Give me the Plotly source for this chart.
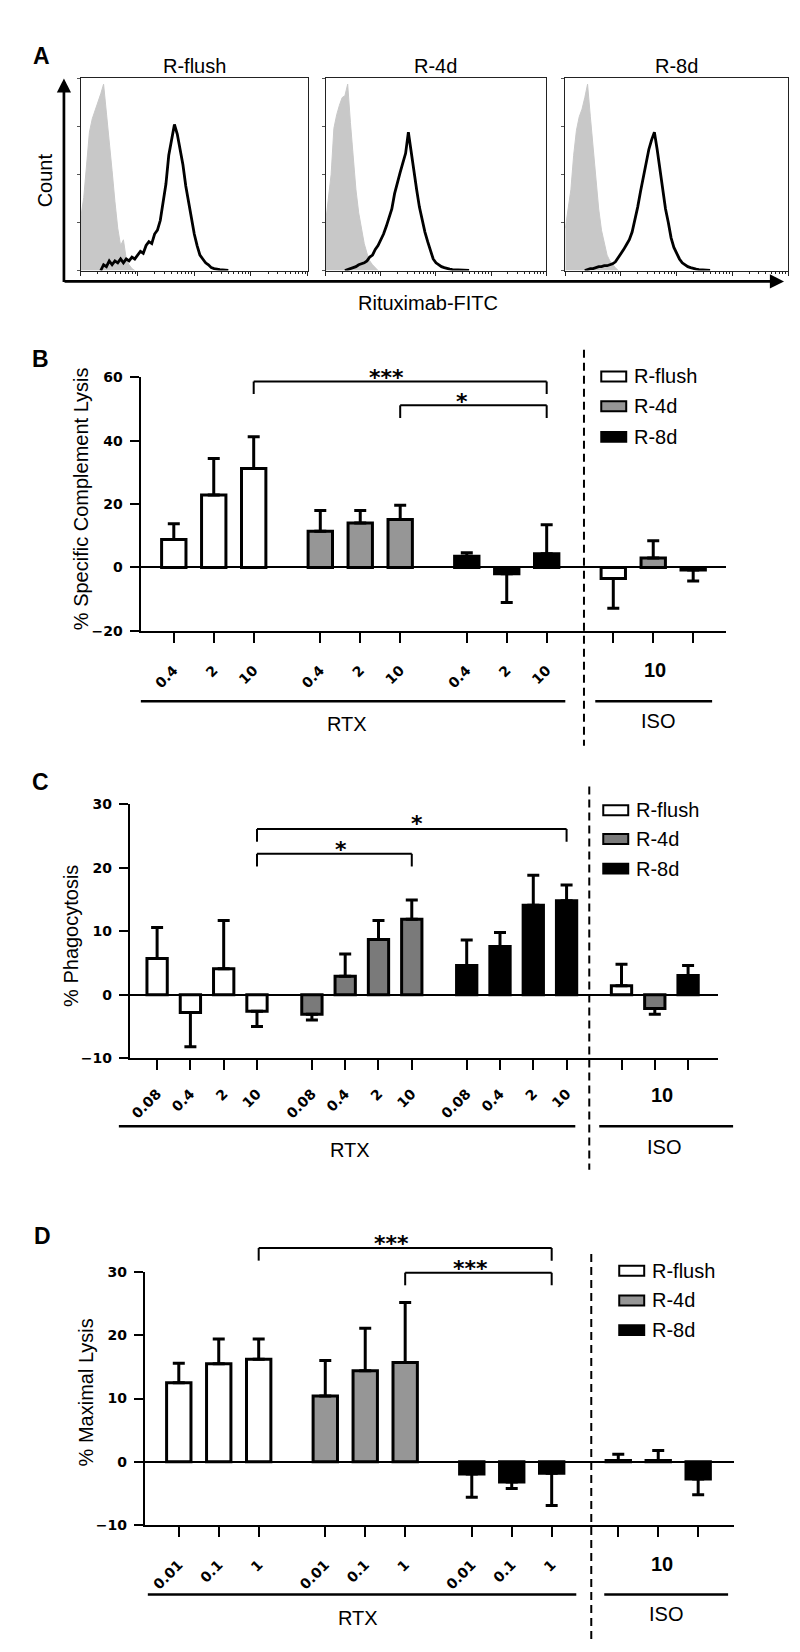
import math
import plotly.graph_objects as go

W, H = 800, 1652

# ---------------- Panel A: flow cytometry histograms ----------------
HIST_TITLES = ["R-flush", "R-4d", "R-8d"]
# isotype (grey filled) histograms: log10 fluorescence (decades) vs. relative count
ISO_DEC = [0.00, 0.05, 0.10, 0.15, 0.20, 0.25, 0.30, 0.35, 0.40, 0.45,
           0.50, 0.55, 0.60, 0.65, 0.70, 0.75, 0.80, 0.85, 0.90, 0.95]
ISO_FLUSH = [0.28, 0.38, 0.55, 0.72, 0.79, 0.83, 0.88, 0.92, 0.97, 0.82,
             0.70, 0.52, 0.36, 0.22, 0.13, 0.16, 0.06, 0.03, 0.01, 0.0]
ISO_4D = [0.25, 0.36, 0.50, 0.74, 0.81, 0.86, 0.90, 0.91, 0.97, 0.77,
          0.60, 0.42, 0.30, 0.21, 0.14, 0.09, 0.05, 0.03, 0.015, 0.0]
ISO_8D = [0.22, 0.31, 0.42, 0.60, 0.73, 0.80, 0.84, 0.90, 0.97, 0.80,
          0.64, 0.46, 0.32, 0.21, 0.14, 0.08, 0.05, 0.03, 0.015, 0.0]
# rituximab-FITC (black line) histograms
RTX_DEC = [0.35, 0.40, 0.45, 0.50, 0.55, 0.60, 0.65, 0.70, 0.75, 0.80,
           0.85, 0.90, 0.95, 1.00, 1.05, 1.10, 1.15, 1.20, 1.25, 1.30,
           1.35, 1.40, 1.45, 1.50, 1.55, 1.60, 1.65, 1.70, 1.75, 1.80,
           1.85, 1.90, 1.95, 2.00, 2.05, 2.10, 2.15, 2.20, 2.25, 2.30,
           2.35, 2.40, 2.45, 2.50, 2.55, 2.60]
RTX_FLUSH = [0.0, 0.03, 0.02, 0.05, 0.03, 0.05, 0.04, 0.06, 0.04, 0.06,
             0.05, 0.07, 0.06, 0.08, 0.10, 0.09, 0.13, 0.15, 0.14, 0.19,
             0.21, 0.26, 0.36, 0.45, 0.60, 0.68, 0.76, 0.71, 0.63, 0.55,
             0.44, 0.35, 0.27, 0.19, 0.13, 0.08, 0.06, 0.04, 0.03, 0.015,
             0.01, 0.006, 0.004, 0.003, 0.002, 0.0]
RTX_4D = [0.0, 0.005, 0.01, 0.015, 0.02, 0.03, 0.035, 0.04, 0.05, 0.07,
          0.08, 0.11, 0.13, 0.16, 0.19, 0.23, 0.28, 0.32, 0.40, 0.46,
          0.51, 0.56, 0.61, 0.72, 0.62, 0.50, 0.42, 0.33, 0.26, 0.20,
          0.15, 0.10, 0.06, 0.04, 0.03, 0.02, 0.015, 0.01, 0.007, 0.005,
          0.004, 0.003, 0.002, 0.001, 0.001, 0.0]
RTX_8D = [0.0, 0.005, 0.01, 0.01, 0.015, 0.02, 0.02, 0.025, 0.025, 0.03,
          0.035, 0.045, 0.065, 0.085, 0.11, 0.135, 0.16, 0.20, 0.26, 0.33,
          0.41, 0.49, 0.56, 0.63, 0.68, 0.72, 0.63, 0.52, 0.41, 0.32,
          0.25, 0.17, 0.12, 0.09, 0.06, 0.04, 0.03, 0.02, 0.015, 0.01,
          0.007, 0.005, 0.003, 0.002, 0.001, 0.0]

# ---------------- Bar panels ----------------
SERIES = ["R-flush", "R-4d", "R-8d"]
ISO_DOSE = "10"

B_DOSES = ["0.4", "2", "10"]
B_FLUSH = [8.8, 22.9, 31.2]
B_FLUSH_ERR = [5.0, 11.5, 10.1]
B_4D = [11.4, 14.0, 15.1]
B_4D_ERR = [6.6, 4.0, 4.5]
B_8D = [3.5, -2.0, 4.3]
B_8D_ERR = [1.1, 9.1, 9.2]
B_ISO = [-3.5, 3.0, -0.8]
B_ISO_ERR = [9.4, 5.4, 3.5]

C_DOSES = ["0.08", "0.4", "2", "10"]
C_FLUSH = [5.7, -2.8, 4.1, -2.6]
C_FLUSH_ERR = [4.9, 5.4, 7.6, 2.4]
C_4D = [-3.1, 2.9, 8.7, 11.9]
C_4D_ERR = [0.9, 3.5, 3.0, 3.0]
C_8D = [4.6, 7.6, 14.1, 14.8]
C_8D_ERR = [4.0, 2.2, 4.7, 2.5]
C_ISO = [1.4, -2.2, 3.0]
C_ISO_ERR = [3.4, 0.9, 1.6]

D_DOSES = ["0.01", "0.1", "1"]
D_FLUSH = [12.5, 15.5, 16.2]
D_FLUSH_ERR = [3.1, 3.9, 3.2]
D_4D = [10.4, 14.4, 15.7]
D_4D_ERR = [5.6, 6.7, 9.5]
D_8D = [-1.9, -3.2, -1.8]
D_8D_ERR = [3.7, 1.0, 5.1]
D_ISO = [0.2, 0.2, -2.7]
D_ISO_ERR = [1.0, 1.6, 2.5]

# significance comparisons: (series, dose index) -> (series, dose index), label
B_SIG = [((0, 2), (2, 2), "***"), ((1, 2), (2, 2), "*")]
C_SIG = [((0, 3), (2, 3), "*"), ((0, 3), (1, 3), "*")]
D_SIG = [((0, 2), (2, 2), "***"), ((1, 2), (2, 2), "***")]

# ---------------- helpers ----------------
FONT = "Liberation Sans"
TICKFONT = "DejaVu Sans"
FILLS_BD = ["#ffffff", "#969696", "#000000"]
FILLS_C = ["#ffffff", "#7a7a7a", "#000000"]


def px(x):
    return x / W


def py(y):
    return 1 - y / H


fig = go.Figure()
annotations = []
shapes = []


def text(x, y, s, size=20, bold=False, angle=0, xanchor="center", family=FONT):
    annotations.append(dict(
        x=px(x), y=py(y), xref="paper", yref="paper", text=s, showarrow=False,
        xanchor=xanchor, yanchor="middle", textangle=angle,
        font=dict(family=family, size=size, color="#000",
                  weight="bold" if bold else "normal")))


def pline(x0, y0, x1, y1, width=2.5, dash=None):
    shapes.append(dict(type="line", xref="paper", yref="paper",
                       x0=px(x0), y0=py(y0), x1=px(x1), y1=py(y1),
                       line=dict(color="#000", width=width, dash=dash)))


# ---------------- Panel A ----------------
boxes = [(72, 299), (317, 538), (557, 780)]
box_top, box_bot = 63, 257
iso_sets = [ISO_FLUSH, ISO_4D, ISO_8D]
rtx_sets = [RTX_FLUSH, RTX_4D, RTX_8D]
minor_vals = [n + math.log10(k) for n in range(4) for k in range(2, 10)]
for i, (x0, x1) in enumerate(boxes):
    xa = "x" if i == 0 else f"x{i + 1}"
    ya = "y" if i == 0 else f"y{i + 1}"
    fig.add_trace(go.Scatter(x=ISO_DEC, y=iso_sets[i], mode="lines", fill="tozeroy",
                             fillcolor="#c8c8c8", line=dict(color="#c8c8c8", width=1),
                             xaxis=xa, yaxis=ya, hoverinfo="skip"))
    fig.add_trace(go.Scatter(x=RTX_DEC, y=rtx_sets[i], mode="lines",
                             line=dict(color="#000", width=2.8),
                             xaxis=xa, yaxis=ya, hoverinfo="skip"))
    key = "" if i == 0 else str(i + 1)
    fig.layout["xaxis" + key] = dict(
        domain=[px(x0), px(x1)], range=[0, 4], anchor=ya, showline=True, mirror=True,
        linecolor="#222", linewidth=1, showgrid=False, zeroline=False,
        ticks="outside", ticklen=4, tickwidth=1, tickcolor="#222",
        tickvals=[0, 1, 2, 3, 4], showticklabels=False,
        minor=dict(tickvals=minor_vals, ticks="outside", ticklen=2, tickcolor="#222"))
    fig.layout["yaxis" + key] = dict(
        domain=[py(box_bot), py(box_top)], range=[0, 1.0], anchor=xa, showline=True,
        mirror=True, linecolor="#222", linewidth=1, showgrid=False, zeroline=False,
        ticks="outside", ticklen=3, tickcolor="#555",
        tickvals=[0, 0.25, 0.5, 0.75, 1.0], showticklabels=False)
    text((x0 + x1) / 2, 50, HIST_TITLES[i], size=20)

# axis arrows
annotations.append(dict(x=px(55), y=py(63), xref="paper", yref="paper", ax=0, ay=205,
                        axref="pixel", ayref="pixel", text="", showarrow=True,
                        arrowhead=2, arrowsize=1.05, arrowwidth=2.7, arrowcolor="#000"))
annotations.append(dict(x=px(776), y=py(268), xref="paper", yref="paper", ax=-721, ay=0,
                        axref="pixel", ayref="pixel", text="", showarrow=True,
                        arrowhead=2, arrowsize=1.05, arrowwidth=2.7, arrowcolor="#000"))
text(36, 166, "Count", size=20, angle=-90)
text(420, 290, "Rituximab-FITC", size=20)
text(33, 40, "A", size=23, bold=True)


# ---------------- bar panel builder ----------------
def bar_panel(n, doses, vals, errs, iso, iso_err, step, fills, xdom_px, xrange,
              ydom_px, yrange, ytickvals, sig, sig_heights, star_heights, star_x,
              divider_x, divider_y, rtx_line, iso_line, line_y, rtx_lab, iso_lab,
              ten_lab, legend, ylabel, ylabel_pos, letter, letter_pos, standoff):
    xa, ya = f"x{n}", f"y{n}"
    ng = len(doses)

    def pos(s, d):
        return s * step + d

    for s in range(3):
        xs = [pos(s, d) for d in range(ng)] + [3 * step + s]
        ys = list(vals[s]) + [iso[s]]
        es = list(errs[s]) + [iso_err[s]]
        up = [e if v >= 0 else 0 for v, e in zip(ys, es)]
        dn = [e if v < 0 else 0 for v, e in zip(ys, es)]
        fig.add_trace(go.Bar(
            x=xs, y=ys, width=0.61, xaxis=xa, yaxis=ya, name=SERIES[s],
            marker=dict(color=fills[s], line=dict(color="#000", width=3)),
            error_y=dict(type="data", symmetric=False, array=up, arrayminus=dn,
                         color="#000", thickness=3, width=6),
            hoverinfo="skip"))
    tickvals = [pos(s, d) for s in range(3) for d in range(ng)] + [3 * step + s for s in range(3)]
    ticktext = [doses[d] for s in range(3) for d in range(ng)] + ["", "", ""]
    fig.layout[f"xaxis{n}"] = dict(
        domain=[px(xdom_px[0]), px(xdom_px[1])], range=xrange, anchor=ya,
        showline=True, linecolor="#000", linewidth=2, showgrid=False, zeroline=False,
        ticks="outside", ticklen=10, tickwidth=2, tickcolor="#000",
        tickmode="array", tickvals=tickvals, ticktext=ticktext, tickangle=-45,
        ticklabelstandoff=standoff,
        tickfont=dict(family=TICKFONT, size=14, color="#000", weight="bold"))
    fig.layout[f"yaxis{n}"] = dict(
        domain=[py(ydom_px[0]), py(ydom_px[1])], range=yrange, anchor=xa,
        showline=True, linecolor="#000", linewidth=2, showgrid=False,
        zeroline=True, zerolinecolor="#000", zerolinewidth=2,
        ticks="outside", ticklen=9, tickwidth=2, tickcolor="#000",
        tickmode="array", tickvals=ytickvals, ticklabelstandoff=4,
        tickfont=dict(family=TICKFONT, size=14, color="#000", weight="bold"))

    span = yrange[1] - yrange[0]

    def dom(v):
        return (v - yrange[0]) / span

    for (a, b, lab), (h, drop), (sh, sx) in zip(sig, sig_heights, zip(star_heights, star_x)):
        xa0 = pos(*a)
        xb0 = pos(*b)
        for (x0, y0, x1, y1) in [(xa0, drop, xa0, h), (xa0, h, xb0, h), (xb0, h, xb0, drop)]:
            shapes.append(dict(type="line", xref=xa, yref=f"{ya} domain",
                               x0=x0, x1=x1, y0=dom(y0), y1=dom(y1),
                               line=dict(color="#000", width=2)))
        annotations.append(dict(x=sx, y=dom(sh), xref=xa, yref=f"{ya} domain", text=lab,
                                showarrow=False, xanchor="center", yanchor="middle",
                                yshift=-6,
                                font=dict(family="DejaVu Sans", size=22, color="#000",
                                          weight="bold")))

    pline(divider_x, divider_y[0], divider_x, divider_y[1], width=2, dash="8px,5px")
    pline(rtx_line[0], line_y, rtx_line[1], line_y, width=2.5)
    pline(iso_line[0], line_y, iso_line[1], line_y, width=2.5)
    text(rtx_lab[0], rtx_lab[1], "RTX", size=20)
    text(iso_lab[0], iso_lab[1], "ISO", size=20)
    text(ten_lab[0], ten_lab[1], ISO_DOSE, size=20, bold=True)

    lx0, lx1, lys = legend
    for s in range(3):
        shapes.append(dict(type="rect", xref="paper", yref="paper",
                           x0=px(lx0), x1=px(lx1), y0=py(lys[s] + 5), y1=py(lys[s] - 5),
                           fillcolor=fills[s], line=dict(color="#000", width=2)))
        text(lx1 + 6, lys[s], SERIES[s], size=20, xanchor="left")

    text(ylabel_pos[0], ylabel_pos[1], ylabel, size=20, angle=-90)
    text(letter_pos[0], letter_pos[1], letter, size=23, bold=True)


# Panel B
bar_panel(4, B_DOSES, [B_FLUSH, B_4D, B_8D], [B_FLUSH_ERR, B_4D_ERR, B_8D_ERR],
          B_ISO, B_ISO_ERR, 3.667, FILLS_BD, (131.7, 718), [-0.8325, 13.825],
          (620.7, 365), [-20, 60], [-20, 0, 20, 40, 60], B_SIG,
          [(58.7, 54.8), (51.2, 47.2)], [61.8, 54.4], [5.32, 7.22],
          575.7, (337, 737), (132, 557), (587, 704), 692, (338, 715), (650, 712),
          (647, 660), (593, 618, [364, 394, 425]), "% Specific Complement Lysis",
          (72, 487), "B", (32, 346), 14)

# Panel C
bar_panel(5, C_DOSES, [C_FLUSH, C_4D, C_8D], [C_FLUSH_ERR, C_4D_ERR, C_8D_ERR],
          C_ISO, C_ISO_ERR, 4.65, FILLS_C, (121, 710), [-0.819, 16.852],
          (1052.3, 796), [-10, 30], [-10, 0, 10, 20, 30], C_SIG,
          [(26.1, 24.1), (22.2, 20.2)], [27.9, 23.8], [7.82, 5.51],
          581, (778, 1165), (110, 567), (591, 725), 1121, (341, 1145), (656, 1142),
          (654, 1090), (595, 620, [802, 831, 861]), "% Phagocytosis",
          (62, 929), "C", (32, 773), 10)

# Panel D
bar_panel(6, D_DOSES, [D_FLUSH, D_4D, D_8D], [D_FLUSH_ERR, D_4D_ERR, D_8D_ERR],
          D_ISO, D_ISO_ERR, 3.667, FILLS_BD, (136, 725.6), [-0.85, 13.89],
          (1523.9, 1268.3), [-10, 30], [-10, 0, 10, 20, 30], D_SIG,
          [(33.8, 31.8), (29.9, 27.9)], [35.4, 31.5], [5.32, 7.3],
          583, (1250, 1640), (139, 568), (596, 720), 1594, (349, 1618), (658, 1614),
          (654, 1563), (611, 636, [1267, 1297, 1327]), "% Maximal Lysis",
          (77, 1390), "D", (34, 1232), 14)

fig.update_layout(
    width=W, height=H, margin=dict(l=0, r=0, t=0, b=0),
    paper_bgcolor="#fff", plot_bgcolor="#fff", showlegend=False,
    barmode="overlay", annotations=annotations, shapes=shapes,
    font=dict(family=FONT, color="#000"))

fig.write_html("out.html")
